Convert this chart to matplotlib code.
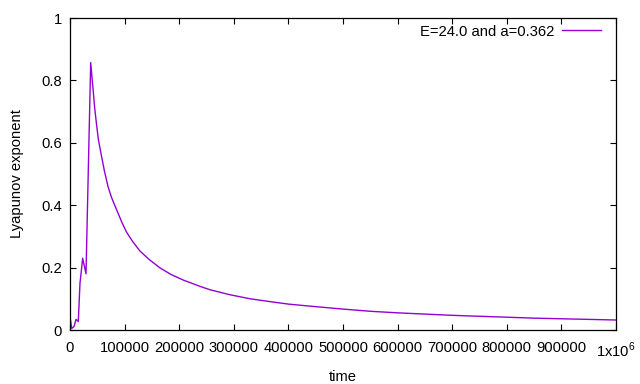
import matplotlib
matplotlib.use("Agg")
import matplotlib.pyplot as plt

plt.rcParams['font.family'] = ['Liberation Sans', 'DejaVu Sans']
plt.rcParams['mathtext.fontset'] = 'custom'
plt.rcParams['mathtext.rm'] = 'Liberation Sans'

# valores (tiempo, exponente de Lyapunov)
tiempo = [0, 3100, 7300, 11000, 15200, 18300, 23200, 29300, 37900,
          40000, 42100, 45000, 48200, 52000, 57300, 63000, 69600, 76000,
          85500, 95000, 103800, 115000, 128200, 145000, 164800, 185000,
          207500, 238000, 256400, 293000, 330000, 366300, 400000, 436500,
          500000, 550000, 600000, 650000, 700000, 750000, 800000, 850000,
          900000, 950000, 1000000]
lyapunov = [0.043, 0.005, 0.011, 0.034, 0.027, 0.15, 0.23, 0.18, 0.857,
            0.815, 0.775, 0.715, 0.665, 0.61, 0.561, 0.51, 0.46, 0.425,
            0.385, 0.345, 0.313, 0.283, 0.253, 0.226, 0.199, 0.178,
            0.160, 0.140, 0.129, 0.113, 0.100, 0.091, 0.083, 0.077,
            0.067, 0.060, 0.055, 0.051, 0.047, 0.044, 0.041, 0.038,
            0.036, 0.034, 0.032]

xticks = [0, 100000, 200000, 300000, 400000, 500000, 600000, 700000, 800000, 900000, 1000000]
xlabels = ['0', '100000', '200000', '300000', '400000', '500000', '600000',
           '700000', '800000', '900000', '1x10$^{6}$']
yticks = [0, 0.2, 0.4, 0.6, 0.8, 1]
ylabels = ['0', '0.2', '0.4', '0.6', '0.8', '1']

fs = 10.6

fig = plt.figure(figsize=(6.4, 3.84), dpi=100)
ax = fig.add_axes([70/640, 54/384, 546/640, 312/384])

ax.plot(tiempo, lyapunov, color='#9400D3', lw=1.0, label='E=24.0 and a=0.362')

ax.set_xlim(0, 1000000)
ax.set_ylim(0, 1)
ax.set_xticks(xticks)
ax.set_xticklabels(xlabels)
ax.set_yticks(yticks)
ax.set_yticklabels(ylabels)
ax.tick_params(direction='in', length=4.5, width=0.8, top=True, right=True,
               labelsize=fs)
ax.tick_params(axis='x', pad=8)
ax.tick_params(axis='y', pad=6)
for s in ax.spines.values():
    s.set_linewidth(0.9)

ax.set_xlabel('time', fontsize=fs, labelpad=7)
ax.set_ylabel('Lyapunov exponent', fontsize=fs, labelpad=12.5)

ax.legend(loc='upper right', bbox_to_anchor=(531/546, 0.979), frameon=False,
          markerfirst=False, fontsize=fs, handlelength=2.65,
          borderaxespad=0, borderpad=0, handletextpad=0.55)

fig.savefig('out.png', dpi=100)
